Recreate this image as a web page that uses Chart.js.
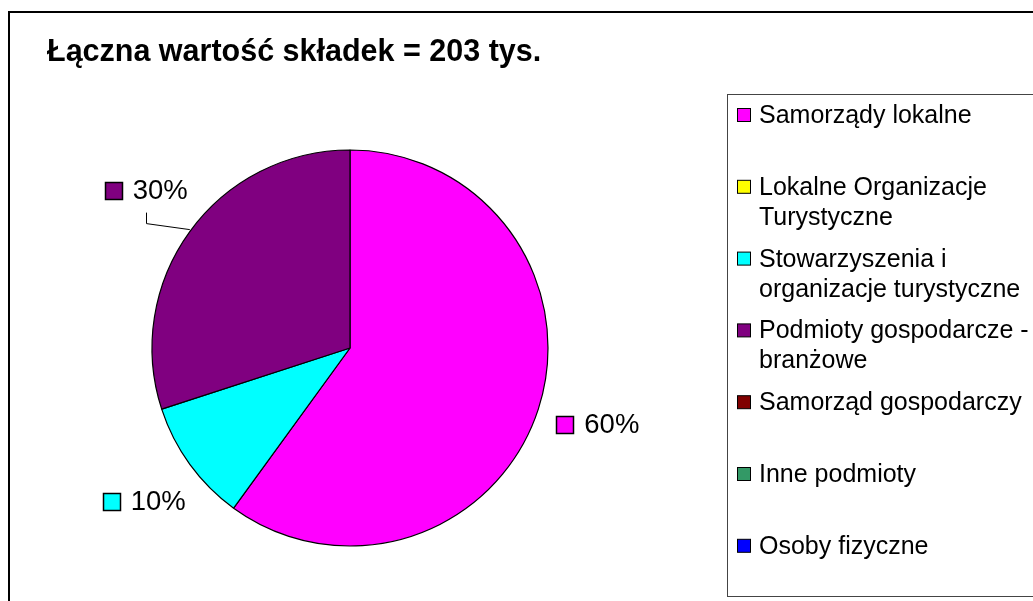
<!DOCTYPE html>
<html>
<head>
<meta charset="utf-8">
<title>Łączna wartość składek</title>
<script src="https://cdn.jsdelivr.net/npm/chart.js@4.4.1/dist/chart.umd.min.js"></script>
<style>
  body { margin: 0; background: #fff; }
  canvas { display: block; }
</style>
</head>
<body>
<canvas id="skladkiChart" width="1033" height="601"></canvas>
<script>
'use strict';
//=================Data===================//
var chartTitle = 'Łączna wartość składek = 203 tys.';
var categories = [
  'Samorządy lokalne',
  'Lokalne Organizacje Turystyczne',
  'Stowarzyszenia i organizacje turystyczne',
  'Podmioty gospodarcze - branżowe',
  'Samorząd gospodarczy',
  'Inne podmioty',
  'Osoby fizyczne'
];
var shares = [60, 0, 10, 30, 0, 0, 0];   // % of total

//=================Styles===================//
var sliceColors = ['#FF00FF', '#FFFF00', '#00FFFF', '#800080', '#800000', '#339966', '#0000FF'];
var fontFamily = '"Liberation Sans", Arial, sans-serif';

// where each percentage label sits, relative to the slice's outer edge
var labelShift = {
  0: { dx: 18, dy: 15, align: 'left' },
  2: { dx: -4, dy: 37, align: 'right' },
  3: { dx: -2, dy: -41, align: 'right', leader: true }
};

//=================Plugins===================//
var framePlugin = {
  id: 'frame',
  beforeDraw: function (chart) {
    var ctx = chart.ctx;
    ctx.save();
    ctx.fillStyle = '#fff';
    ctx.fillRect(0, 0, chart.width, chart.height);
    ctx.strokeStyle = '#000';
    ctx.lineWidth = 2;
    ctx.strokeRect(9, 12, 1100, 700);
    // title
    ctx.fillStyle = '#000';
    ctx.font = 'bold 30.5px ' + fontFamily;
    ctx.textBaseline = 'alphabetic';
    ctx.fillText(chartTitle, 47, 61);
    ctx.restore();
  }
};

function wrapWords(ctx, text, maxWidth) {
  var words = text.split(' ');
  var lines = [];
  var line = '';
  for (var i = 0; i < words.length; i++) {
    var test = line ? line + ' ' + words[i] : words[i];
    if (line && ctx.measureText(test).width > maxWidth) {
      lines.push(line);
      line = words[i];
    } else {
      line = test;
    }
  }
  lines.push(line);
  return lines;
}

var legendBoxPlugin = {
  id: 'legendBox',
  afterDraw: function (chart) {
    var ctx = chart.ctx;
    ctx.save();
    ctx.strokeStyle = '#444';
    ctx.lineWidth = 1;
    ctx.strokeRect(727.5, 94.5, 400, 502);
    ctx.font = '25px ' + fontFamily;
    ctx.textBaseline = 'alphabetic';
    for (var i = 0; i < categories.length; i++) {
      var base = 123 + i * 71.8;
      ctx.fillStyle = sliceColors[i];
      ctx.fillRect(737.5, base - 14.5, 13, 13);
      ctx.strokeStyle = '#000';
      ctx.strokeRect(737.5, base - 14.5, 13, 13);
      ctx.fillStyle = '#000';
      var lines = wrapWords(ctx, categories[i], 274);
      for (var j = 0; j < lines.length; j++) {
        ctx.fillText(lines[j], 759, base + j * 30);
      }
    }
    ctx.restore();
  }
};

var pieLabelPlugin = {
  id: 'pieLabels',
  afterDatasetsDraw: function (chart) {
    var ctx = chart.ctx;
    var meta = chart.getDatasetMeta(0);
    var data = chart.data.datasets[0].data;
    var total = data.reduce(function (a, b) { return a + b; }, 0);
    ctx.save();
    ctx.font = '27.5px ' + fontFamily;
    ctx.textBaseline = 'middle';
    meta.data.forEach(function (arc, i) {
      if (!data[i] || !labelShift[i]) return;
      var p = arc.getProps(['x', 'y', 'startAngle', 'endAngle', 'outerRadius'], true);
      var mid = (p.startAngle + p.endAngle) / 2;
      var ax = p.x + Math.cos(mid) * p.outerRadius;
      var ay = p.y + Math.sin(mid) * p.outerRadius;
      var s = labelShift[i];
      var text = Math.round(data[i] / total * 100) + '%';
      var box = 17, gap = 11;
      var w = box + gap + ctx.measureText(text).width;
      var left = s.align === 'left' ? ax + s.dx : ax + s.dx - w;
      var cy = ay + s.dy;

      if (s.leader) {
        var lx = Math.round(left + w / 2) + 0.5;
        ctx.strokeStyle = '#000';
        ctx.lineWidth = 1;
        ctx.beginPath();
        ctx.moveTo(lx, cy + 22);
        ctx.lineTo(lx, cy + 33);
        ctx.lineTo(ax, ay - 2);
        ctx.stroke();
      }
      var bx = Math.round(left) + 0.5;
      var by = Math.round(cy - box / 2) + 0.5;
      ctx.fillStyle = sliceColors[i];
      ctx.fillRect(bx, by, box, box);
      ctx.strokeStyle = '#000';
      ctx.lineWidth = 1.5;
      ctx.strokeRect(bx, by, box, box);
      ctx.fillStyle = '#000';
      ctx.fillText(text, left + box + gap, cy + 1);
    });
    ctx.restore();
  }
};

//=================Chart===================//
var ctx = document.getElementById('skladkiChart').getContext('2d');
var skladkiChart = new Chart(ctx, {
  type: 'pie',
  data: {
    labels: categories,
    datasets: [{
      data: shares,
      backgroundColor: sliceColors,
      borderColor: '#000',
      borderWidth: 1.2,
      hoverOffset: 0,
      radius: 198
    }]
  },
  options: {
    responsive: false,
    animation: false,
    layout: { padding: { left: 150, right: 483, top: 148, bottom: 53 } },
    plugins: {
      legend: { display: false },
      title: { display: false },
      tooltip: { enabled: false }
    }
  },
  plugins: [framePlugin, legendBoxPlugin, pieLabelPlugin]
});
</script>
</body>
</html>
